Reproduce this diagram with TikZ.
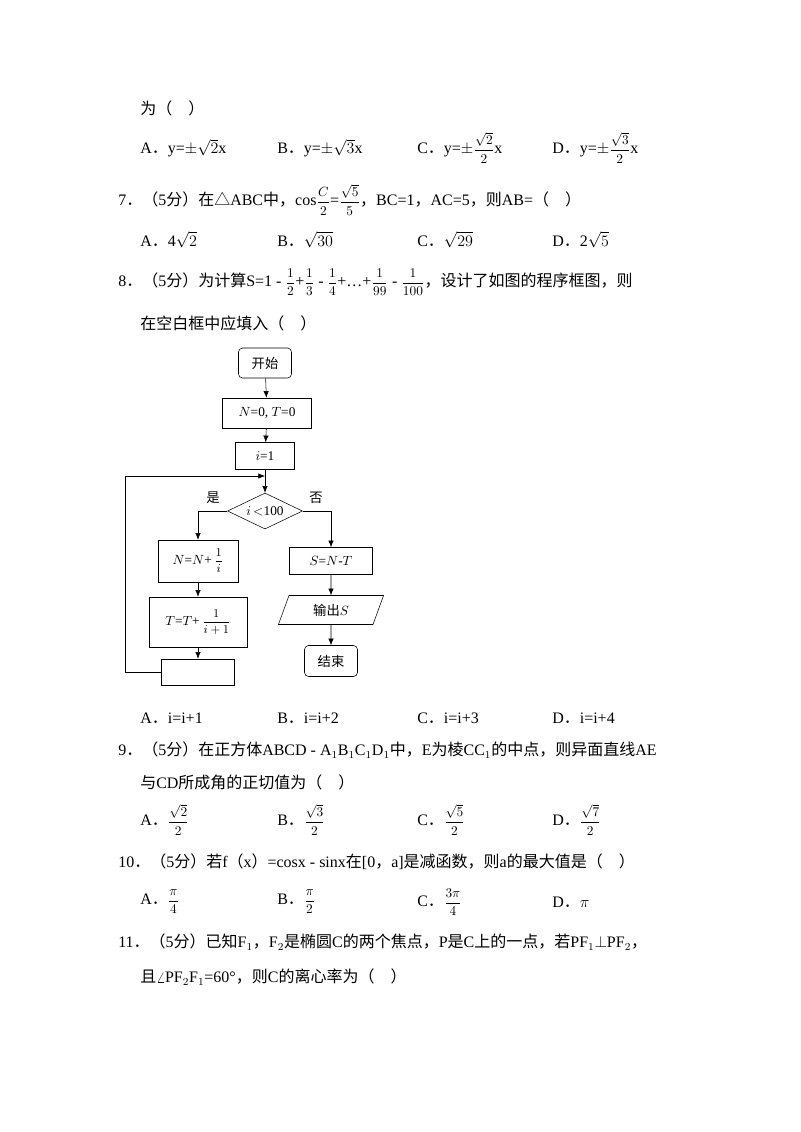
\documentclass[tikz,border=0pt]{standalone}
\usepackage{amsmath}
\usepackage{fontspec}
\setmainfont{Liberation Serif}
\newfontfamily\cjk{Noto Sans CJK SC}
\newcommand\zh[1]{{\cjk #1}}
\newcommand\fr[2]{{\fontsize{10}{11}\selectfont$\dfrac{#1}{#2}$}}
\usetikzlibrary{shapes.geometric,arrows.meta}
\begin{document}
\begin{tikzpicture}[x=0.75pt,y=-0.75pt,
  t/.style={anchor=west,inner sep=0,font=\fontsize{12}{14}\selectfont},
  box/.style={draw,thin,minimum width=#1,inner sep=0},
  fc/.style={font=\fontsize{10}{12}\selectfont},
  ar/.style={-{Latex[length=5pt,width=4pt]},thin}]
\useasboundingbox (0,0) rectangle (800,1132);
\node[t] (l1) at (140,108) {\zh{为（\quad ）}};
\node[t] (o1a) at (140,148) {A\zh{．}y=$\pm\sqrt{2}$x};
\node[t] (o1b) at (277,148) {B\zh{．}y=$\pm\sqrt{3}$x};
\node[t] (o1c) at (417,148) {C\zh{．}y=$\pm$\fr{\sqrt{2}}{2}x};
\node[t] (o1d) at (552,148) {D\zh{．}y=$\pm$\fr{\sqrt{3}}{2}x};
\node[t] (q7) at (118,200) {7\zh{．（}5\zh{分）在△}ABC\zh{中，}cos\fr{C}{2}=\fr{\sqrt{5}}{5}\zh{，}BC=1\zh{，}AC=5\zh{，则}AB=\zh{（\quad ）}};
\node[t] (o2a) at (140,240) {A\zh{．}4$\sqrt{2}$};
\node[t] (o2b) at (277,240) {B\zh{．}$\sqrt{30}$};
\node[t] (o2c) at (417,240) {C\zh{．}$\sqrt{29}$};
\node[t] (o2d) at (552,240) {D\zh{．}2$\sqrt{5}$};
\node[t] (q8) at (118,282) {8\zh{．（}5\zh{分）为计算}S=1 - \fr{1}{2}+\fr{1}{3} - \fr{1}{4}+…+\fr{1}{99} - \fr{1}{100}\zh{，设计了如图的程序框图，则}};
\node[t] (q8b) at (140,323) {\zh{在空白框中应填入（\quad ）}};
\node[t] (o3a) at (140,718) {A\zh{．}i=i+1};
\node[t] (o3b) at (277,718) {B\zh{．}i=i+2};
\node[t] (o3c) at (417,718) {C\zh{．}i=i+3};
\node[t] (o3d) at (552,718) {D\zh{．}i=i+4};
\node[t] (q9) at (118,750) {9\zh{．（}5\zh{分）在正方体}ABCD - A$_1$B$_1$C$_1$D$_1$\zh{中，}E\zh{为棱}CC$_1$\zh{的中点，则异面直线}AE};
\node[t] (q9b) at (140,782) {\zh{与}CD\zh{所成角的正切值为（\quad ）}};
\node[t] (o4a) at (140,820) {A\zh{．}\fr{\sqrt{2}}{2}};
\node[t] (o4b) at (277,820) {B\zh{．}\fr{\sqrt{3}}{2}};
\node[t] (o4c) at (417,820) {C\zh{．}\fr{\sqrt{5}}{2}};
\node[t] (o4d) at (552,820) {D\zh{．}\fr{\sqrt{7}}{2}};
\node[t] (q10) at (118,862) {10\zh{．（}5\zh{分）若}f\zh{（}x\zh{）}=cosx - sinx\zh{在}[0\zh{，}a]\zh{是减函数，则}a\zh{的最大值是（\quad ）}};
\node[t] (o5a) at (140,902) {A\zh{．}\fr{\pi}{4}};
\node[t] (o5b) at (277,902) {B\zh{．}\fr{\pi}{2}};
\node[t] (o5c) at (417,902) {C\zh{．}\fr{3\pi}{4}};
\node[t] (o5d) at (552,902) {D\zh{．}$\pi$};
\node[t] (q11) at (118,942) {11\zh{．（}5\zh{分）已知}F$_1$\zh{，}F$_2$\zh{是椭圆}C\zh{的两个焦点，}P\zh{是}C\zh{上的一点，若}PF$_1$$\perp$PF$_2$\zh{，}};
\node[t] (q11b) at (140,977) {\zh{且}$\angle$PF$_2$F$_1$=60°\zh{，则}C\zh{的离心率为（\quad ）}};
% flowchart
\node[draw,rounded corners=3pt,minimum width=53*0.75pt,minimum height=30*0.75pt,fc] (st) at (265,363) {\zh{开始}};
\node[box=89*0.75pt,minimum height=30*0.75pt,fc] (b1) at (267,413) {$N$=0, $T$=0};
\node[box=59*0.75pt,minimum height=27*0.75pt,fc] (b2) at (265,456) {$i$=1};
\node[draw,diamond,aspect=2.1,inner sep=0,minimum width=75*0.75pt,minimum height=36*0.75pt,fc] (dm) at (265,511) {$i$\,$<$100};
\node[fc] (yes) at (213,498) {\zh{是}};
\node[fc] (no) at (316,498) {\zh{否}};
\node[box=80*0.75pt,minimum height=42*0.75pt,fc] (bn) at (198,561) {$N$=$N$+\,{\fontsize{9}{10}\selectfont$\dfrac{1}{i}$}};
\node[box=98*0.75pt,minimum height=50*0.75pt,fc] (bt) at (198,622) {$T$=$T$+\,{\fontsize{9}{10}\selectfont$\dfrac{1}{i+1}$}};
\node[box=73*0.75pt,minimum height=26*0.75pt] (be) at (198,672) {};
\node[box=83*0.75pt,minimum height=27*0.75pt,fc] (bs) at (331,561) {$S$=$N$-$T$};
\node[draw,trapezium,trapezium left angle=70,trapezium right angle=110,inner sep=0,minimum width=85*0.75pt,minimum height=29*0.75pt,fc] (bo) at (331,610) {\zh{输出}$S$};
\node[draw,rounded corners=3pt,minimum width=53*0.75pt,minimum height=31*0.75pt,fc] (en) at (331,661) {\zh{结束}};
\coordinate (j) at (265,476);
\draw[ar] (st) -- (b1);
\draw[ar] (b1) -- (b2);
\draw[ar] (b2) -- (dm);
\draw[ar] (dm.west) -| (bn.north);
\draw[ar] (dm.east) -| (bs.north);
\draw[ar] (bn) -- (bt);
\draw[ar] (bt) -- (be);
\draw[ar] (bs) -- (bo);
\draw[ar] (bo) -- (en);
\draw[ar] (be.west) -- (125,672) -- (125,476) -- (j);
\end{tikzpicture}
\end{document}
